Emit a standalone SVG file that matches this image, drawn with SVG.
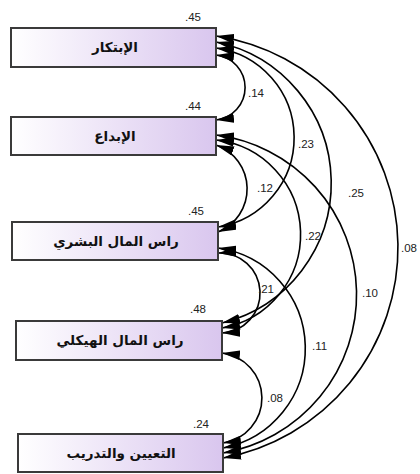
<svg xmlns="http://www.w3.org/2000/svg" width="420" height="474" viewBox="0 0 420 474">
<defs>
<linearGradient id="fillg" x1="0" y1="0" x2="1" y2="0">
<stop offset="0" stop-color="#ffffff"/>
<stop offset="1" stop-color="#d9c6ee"/>
</linearGradient>
<marker id="ah" markerUnits="userSpaceOnUse" markerWidth="18" markerHeight="10" refX="17" refY="4.5" orient="auto-start-reverse" viewBox="0 0 17 9">
<path d="M0,0 L17,4.5 L0,9 z" fill="#000"/>
</marker>
</defs>
<style>
.box{fill:url(#fillg);stroke:#3a3a3a;stroke-width:2}
.lbl{font-family:"DejaVu Sans",sans-serif;font-weight:bold;font-size:13.5px;fill:#111;text-anchor:middle}
.num{font-family:"Liberation Sans",Arial,sans-serif;font-size:11.5px;fill:#222}
.arc{fill:none;stroke:#000;stroke-width:1.6;marker-start:url(#ah);marker-end:url(#ah)}
</style>
<rect width="420" height="474" fill="#fff"/>
<g id="connectors">
<path class="arc" d="M216,55 A32.7,32.7 0 0 1 216,120"/>
<path class="arc" d="M216,48 A90.5,90.5 0 0 1 218,227"/>
<path class="arc" d="M216,42 A144.1,144.1 0 0 1 222,323"/>
<path class="arc" d="M216,36 A214,214 0 0 1 223,458"/>
<path class="arc" d="M216,145 A46.5,46.5 0 0 1 218,232"/>
<path class="arc" d="M216,140 A95,95 0 0 1 222,328"/>
<path class="arc" d="M216,135 A160.8,160.8 0 0 1 223,453"/>
<path class="arc" d="M218,253 A35.1,35.1 0 0 1 222,333"/>
<path class="arc" d="M218,248 A101.4,101.4 0 0 1 223,448"/>
<path class="arc" d="M222,353 A45.4,45.4 0 0 1 223,443"/>
<text class="num" x="248" y="97">.14</text>
<text class="num" x="298" y="148">.23</text>
<text class="num" x="257" y="192">.12</text>
<text class="num" x="348" y="197">.25</text>
<text class="num" x="305" y="240">.22</text>
<text class="num" x="401" y="252">.08</text>
<text class="num" x="258" y="293">.21</text>
<text class="num" x="362" y="297">.10</text>
<text class="num" x="312" y="350">.11</text>
<text class="num" x="267" y="402">.08</text>
</g>
<g id="node1">
<rect class="box" x="11" y="28" width="205" height="39"/>
<text class="lbl" x="115" y="52">الإبتكار</text>
<text class="num" x="185" y="21">.45</text>
</g>
<g id="node2">
<rect class="box" x="11" y="117" width="205" height="38"/>
<text class="lbl" x="115" y="141">الإبداع</text>
<text class="num" x="185" y="110">.44</text>
</g>
<g id="node3">
<rect class="box" x="12" y="222" width="206" height="38"/>
<text class="lbl" x="116" y="246">راس المال البشري</text>
<text class="num" x="188" y="215">.45</text>
</g>
<g id="node4">
<rect class="box" x="16" y="321" width="206" height="39"/>
<text class="lbl" x="120" y="345">راس المال الهيكلي</text>
<text class="num" x="190" y="313">.48</text>
</g>
<g id="node5">
<rect class="box" x="18" y="434" width="205" height="38"/>
<text class="lbl" x="121" y="458">التعيين والتدريب</text>
<text class="num" x="193" y="428">.24</text>
</g>
</svg>
